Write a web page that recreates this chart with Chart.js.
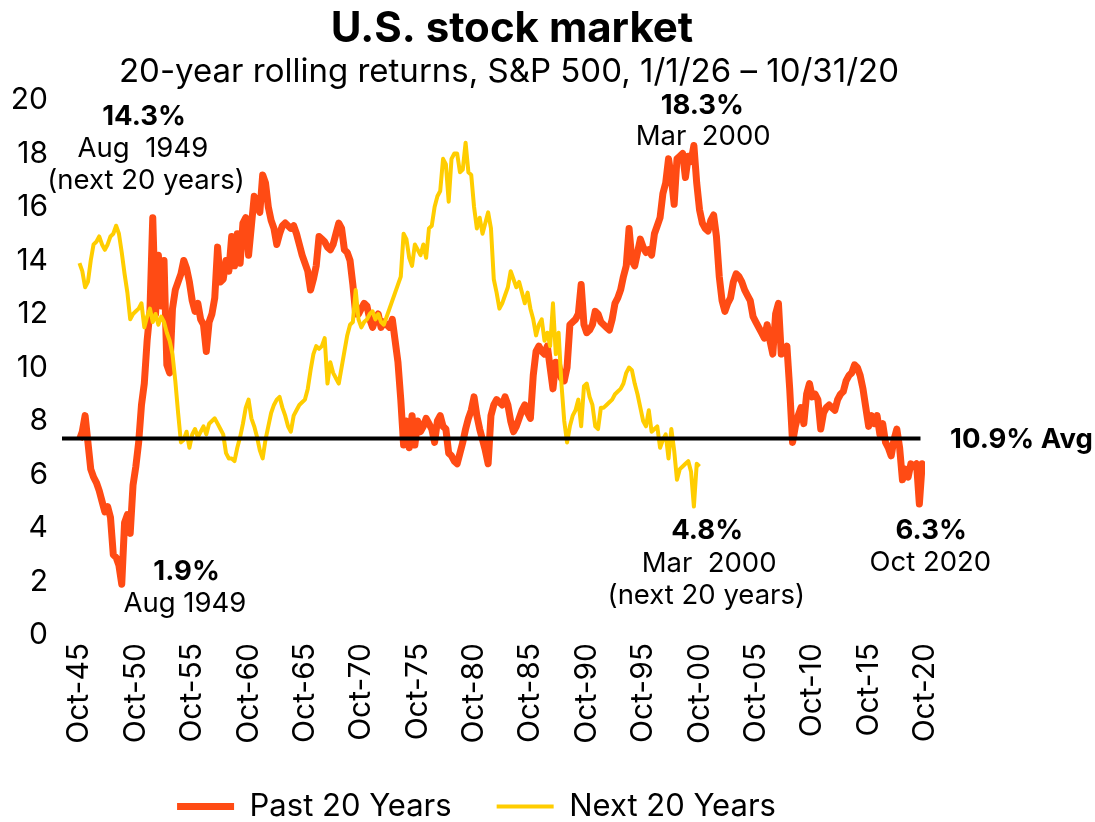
<!DOCTYPE html>
<html>
<head>
<meta charset="utf-8">
<script src="https://cdn.jsdelivr.net/npm/chart.js@4.4.1/dist/chart.umd.min.js"></script>
<style>
  html, body { margin: 0; padding: 0; background: #ffffff; }
  #wrap { width: 1095px; height: 822px; position: relative; }
</style>
</head>
<body>
<div id="wrap"><canvas id="chart" width="1095" height="822"></canvas></div>
<script>
// ---- Data (quarterly, index 0 = Oct 1945) ----
const tickPositions = [0, 20, 40, 60, 80, 100, 120, 140, 160, 180, 200, 220, 240, 260, 280, 300];
const tickLabels = ['Oct-45', 'Oct-50', 'Oct-55', 'Oct-60', 'Oct-65', 'Oct-70', 'Oct-75', 'Oct-80',
                    'Oct-85', 'Oct-90', 'Oct-95', 'Oct-00', 'Oct-05', 'Oct-10', 'Oct-15', 'Oct-20'];

// Past 20 years rolling return, Oct 1945 .. Oct 2020
const pastReturns = [
  7.3, 7.6, 8.2, 7.2, 6.2, 5.9, 5.7, 5.4, 5.0, 4.6,
  4.8, 4.4, 3.0, 2.9, 2.6, 1.9, 4.2, 4.5, 3.8, 5.6,
  6.3, 7.2, 8.6, 9.4, 11.0, 12.1, 15.6, 12.0, 14.2, 12.3,
  14.0, 10.1, 9.8, 12.2, 12.9, 13.2, 13.5, 14.0, 13.7, 13.2,
  12.5, 12.1, 12.4, 11.8, 11.6, 10.6, 11.7, 12.0, 12.6, 14.5,
  13.2, 13.3, 14.0, 13.6, 14.9, 13.8, 15.0, 13.9, 15.4, 15.6,
  14.2, 15.3, 16.4, 16.1, 15.8, 17.2, 16.9, 16.0, 15.5, 15.2,
  14.6, 15.0, 15.3, 15.4, 15.3, 15.2, 15.3, 15.0, 14.6, 14.2,
  13.9, 13.6, 12.9, 13.3, 13.8, 14.9, 14.8, 14.7, 14.5, 14.4,
  14.6, 15.0, 15.4, 15.2, 14.4, 14.3, 14.0, 13.1, 12.0, 12.0,
  12.2, 12.4, 12.3, 11.8, 11.5, 11.8, 12.0, 11.5, 11.7, 11.6,
  11.5, 11.8, 11.0, 10.2, 8.8, 7.1, 8.0, 7.0, 8.2, 7.1,
  8.0, 7.6, 7.8, 8.1, 7.9, 7.7, 7.2, 8.0, 8.2, 7.8,
  7.7, 6.8, 6.7, 6.5, 6.4, 6.8, 7.2, 7.7, 8.1, 8.4,
  8.9, 8.2, 7.7, 7.3, 6.9, 6.4, 8.2, 8.6, 8.8, 8.7,
  8.6, 8.9, 8.6, 8.0, 7.6, 7.8, 8.1, 8.4, 8.6, 8.3,
  8.1, 9.7, 10.6, 10.8, 10.6, 10.5, 10.8, 10.0, 9.2, 10.2,
  10.1, 9.6, 9.5, 10.0, 11.6, 11.7, 11.8, 12.0, 13.1, 11.6,
  11.3, 11.4, 11.6, 12.1, 12.0, 11.7, 11.6, 11.5, 11.4, 11.8,
  12.4, 12.6, 12.9, 13.4, 13.8, 15.2, 14.0, 13.8, 14.3, 14.8,
  14.5, 14.3, 14.4, 14.2, 15.0, 15.3, 15.6, 16.5, 16.9, 17.8,
  17.1, 16.1, 17.8, 17.9, 18.0, 17.1, 17.9, 17.7, 18.3, 16.9,
  15.9, 15.4, 15.2, 15.1, 15.5, 15.7, 14.9, 13.4, 12.5, 12.1,
  12.4, 12.6, 13.2, 13.5, 13.4, 13.2, 12.9, 12.7, 12.5, 11.9,
  11.7, 11.5, 11.3, 11.1, 11.6, 11.0, 10.5, 12.0, 12.4, 10.5,
  10.6, 10.8, 9.2, 7.2, 7.8, 8.2, 8.5, 7.9, 9.0, 9.4,
  8.9, 9.0, 8.8, 7.7, 8.3, 8.5, 8.6, 8.5, 8.4, 8.8,
  9.0, 9.1, 9.5, 9.7, 9.8, 10.1, 10.0, 9.7, 9.2, 8.5,
  7.8, 8.2, 7.9, 8.2, 7.5, 7.9, 7.2, 7.0, 6.7, 7.3,
  7.7, 7.0, 5.8, 6.2, 5.9, 6.4, 6.3, 6.4, 4.9, 6.4, 6.3
];

// Next 20 years rolling return, Oct 1945 .. Oct 2000
const nextReturns = [
  13.9, 13.6, 13.0, 13.2, 14.0, 14.6, 14.7, 14.9, 14.6, 14.4,
  14.6, 14.9, 15.0, 15.3, 15.0, 14.3, 13.5, 12.8, 11.8, 12.0,
  12.1, 12.2, 12.4, 11.5, 11.9, 12.2, 11.7, 12.0, 11.6, 11.9,
  11.7, 11.3, 11.0, 10.5, 9.5, 8.3, 7.2, 7.3, 7.6, 7.0,
  7.5, 7.7, 7.4, 7.6, 7.8, 7.5, 7.9, 8.0, 8.1, 7.9,
  7.7, 7.5, 6.8, 6.6, 6.6, 6.5, 7.0, 7.4, 7.9, 8.5,
  8.8, 8.1, 7.8, 7.4, 6.9, 6.6, 7.3, 7.8, 8.3, 8.6,
  8.8, 8.9, 8.5, 8.2, 7.8, 7.6, 8.2, 8.4, 8.6, 8.7,
  8.8, 9.2, 9.9, 10.5, 10.8, 10.7, 10.8, 11.1, 9.4, 10.2,
  9.8, 9.6, 9.4, 10.0, 10.6, 11.2, 11.6, 11.7, 12.9, 11.8,
  11.5, 11.7, 11.8, 12.0, 12.1, 11.8, 12.0, 11.7, 11.6, 11.9,
  12.2, 12.5, 12.8, 13.1, 13.4, 15.0, 14.8, 14.1, 13.8, 14.6,
  14.4, 14.2, 14.6, 14.1, 15.2, 15.3, 16.0, 16.4, 16.6, 17.8,
  17.6, 16.2, 17.8, 18.0, 18.0, 17.3, 17.4, 18.4, 17.3, 17.2,
  16.0, 15.2, 15.6, 15.0, 15.4, 15.8, 15.2, 13.3, 12.8, 12.2,
  12.4, 12.7, 13.0, 13.6, 13.3, 13.0, 13.2, 12.8, 12.4, 12.8,
  12.2, 11.8, 11.2, 11.6, 11.8, 11.0, 11.3, 10.8, 12.4, 10.5,
  11.3, 9.4, 8.0, 7.2, 7.8, 8.2, 8.4, 8.8, 7.8, 9.3,
  9.4, 8.9, 8.6, 7.8, 7.7, 8.5, 8.5, 8.6, 8.7, 8.8,
  9.0, 9.1, 9.2, 9.4, 9.8, 10.0, 9.9, 9.4, 9.0, 8.5,
  8.0, 7.8, 8.4, 7.6, 7.7, 7.8, 7.0, 7.3, 7.5, 6.6,
  7.7, 6.9, 5.8, 6.2, 6.3, 6.4, 6.5, 6.1, 4.8, 6.4, 6.3
];

// Average reference line (level on the axis and its span in quarters)
const avgLineLevel = [7.35, 7.35];
const avgLineSpan = [-6.2, 298.4];

const seriesNames = ['Past 20 Years', 'Next 20 Years'];
const titleText = 'U.S. stock market';
const subtitleText = '20-year rolling returns, S&P 500, 1/1/26 \u2013 10/31/20';

// Callout texts anchored in data space (quarter index, value)
const callouts = [
  { q: 22.9,  v: 19.36, text: '14.3%', bold: true },
  { q: 22.5,  v: 18.17, text: 'Aug  1949' },
  { q: 23.6,  v: 16.97, text: '(next 20 years)' },
  { q: 38.0,  v: 2.36,  text: '1.9%', bold: true },
  { q: 37.4,  v: 1.16,  text: 'Aug 1949' },
  { q: 221.0, v: 19.77, text: '18.3%', bold: true },
  { q: 221.3, v: 18.62, text: 'Mar  2000' },
  { q: 222.7, v: 3.89,  text: '4.8%', bold: true },
  { q: 223.4, v: 2.65,  text: 'Mar  2000' },
  { q: 222.4, v: 1.46,  text: '(next 20 years)' },
  { q: 302.2, v: 3.89,  text: '6.3%', bold: true },
  { q: 301.9, v: 2.69,  text: 'Oct 2020' },
  { q: 308.9, v: 7.29,  text: '10.9% Avg', bold: true, align: 'left' }
];

const FONT = 'Inter';
const RED = '#FF4B14';
const YELLOW = '#FFCD00';

const textPlugin = {
  id: 'textPlugin',
  afterLayout(chart) {
    // nudge the legend to sit where the original's legend sits
    if (chart.legend) { chart.legend.left += 14; chart.legend.right += 14; }
  },
  afterDraw(chart) {
    const { ctx, scales: { x, y } } = chart;
    ctx.save();
    ctx.fillStyle = '#000';
    ctx.textBaseline = 'middle';
    callouts.forEach(a => {
      ctx.font = a.bold ? ('700 27.5px ' + FONT) : ('400 27.5px ' + FONT);
      ctx.textAlign = a.align || 'center';
      ctx.fillText(a.text, x.getPixelForValue(a.q), y.getPixelForValue(a.v));
    });
    ctx.textAlign = 'center';
    ctx.font = '700 42px ' + FONT;
    ctx.fillText(titleText, 512, 29);
    ctx.font = '400 33px ' + FONT;
    ctx.fillText(subtitleText, 509, 72);
    ctx.restore();
  }
};

new Chart(document.getElementById('chart'), {
  type: 'line',
  data: {
    datasets: [
      {
        label: seriesNames[0],
        data: pastReturns.map((v, i) => ({ x: i, y: v })),
        borderColor: RED,
        backgroundColor: RED,
        borderWidth: 7,
        pointRadius: 0,
        tension: 0,
        borderJoinStyle: 'round',
        borderCapStyle: 'butt',
        order: 2
      },
      {
        label: seriesNames[1],
        data: nextReturns.map((v, i) => ({ x: i, y: v })),
        borderColor: YELLOW,
        backgroundColor: YELLOW,
        borderWidth: 4,
        pointRadius: 0,
        tension: 0,
        borderJoinStyle: 'round',
        order: 1
      },
      {
        label: 'avg',
        data: avgLineSpan.map((q, i) => ({ x: q, y: avgLineLevel[i] })),
        borderColor: '#000',
        backgroundColor: '#000',
        borderWidth: 4,
        pointRadius: 0,
        order: 0,
        clip: false
      }
    ]
  },
  options: {
    responsive: false,
    animation: false,
    devicePixelRatio: 1,
    layout: { padding: { top: 100, left: 0, right: 170, bottom: -10 } },
    plugins: {
      title: { display: false },
      tooltip: { enabled: false },
      legend: {
        position: 'bottom',
        labels: {
          filter: item => item.datasetIndex < 2,
          sort: (a, b) => a.datasetIndex - b.datasetIndex,
          usePointStyle: true,
          pointStyle: 'line',
          pointStyleWidth: 57,
          boxHeight: 7,
          padding: 45,
          color: '#000',
          font: { family: FONT, size: 31 }
        }
      }
    },
    scales: {
      x: {
        type: 'linear',
        min: -6.2,
        max: 300,
        grid: { display: false, drawTicks: false },
        border: { display: false },
        afterFit(scale) { scale.height = 111; },
        afterBuildTicks(scale) { scale.ticks = tickPositions.map(v => ({ value: v })); },
        ticks: {
          autoSkip: false,
          minRotation: 90,
          maxRotation: 90,
          padding: 8,
          color: '#000',
          font: { family: FONT, size: 30 },
          callback: (value, index) => tickLabels[index]
        }
      },
      y: {
        min: 0,
        max: 20,
        grid: { display: false, drawTicks: false },
        border: { display: false },
        afterFit(scale) { scale.width = 62; },
        ticks: {
          stepSize: 2,
          padding: 14,
          color: '#000',
          font: { family: FONT, size: 30 }
        }
      }
    }
  },
  plugins: [textPlugin]
});
</script>
</body>
</html>
